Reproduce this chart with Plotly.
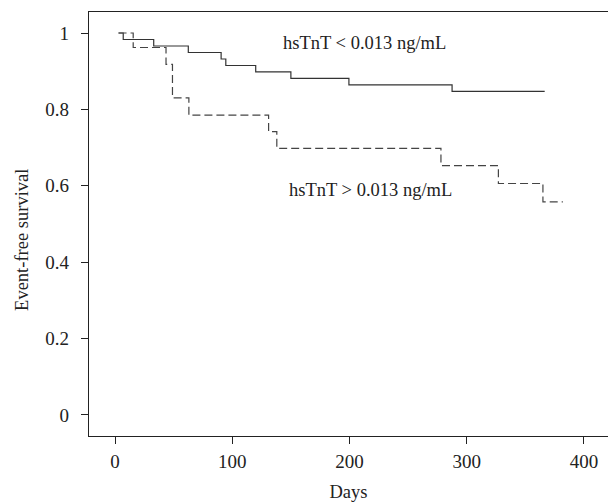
import plotly.graph_objects as go

# Kaplan-Meier step data
low_days = [3, 7, 33, 62.5, 90.5, 94.5, 120, 150, 199.5, 287.5, 366.5]
low_surv = [1.0, 0.983, 0.966, 0.949, 0.932, 0.915, 0.898, 0.881, 0.864, 0.847, 0.847]

high_days = [3, 15.5, 43.5, 49, 63, 131, 138, 278, 327, 365, 382]
high_surv = [1.0, 0.962, 0.918, 0.830, 0.785, 0.742, 0.698, 0.653, 0.606, 0.558, 0.558]

x_ticks = [0, 100, 200, 300, 400]
y_ticks = [0, 0.2, 0.4, 0.6, 0.8, 1]
y_ticktext = ["0", "0.2", "0.4", "0.6", "0.8", "1"]

SERIF = "Liberation Serif, Times New Roman, serif"
_FONT = dict(family=SERIF, size=19, color="#222222")
_NOTE = dict(family=SERIF, size=18.5, color="#222222")

fig = go.Figure()
fig.add_trace(go.Scatter(
    x=low_days, y=low_surv, mode="lines", line_shape="hv",
    line=dict(color="#333333", width=1.2), name="hsTnT < 0.013 ng/mL",
))
fig.add_trace(go.Scatter(
    x=high_days, y=high_surv, mode="lines", line_shape="hv",
    line=dict(color="#444444", width=1.2, dash="8px,4px"), name="hsTnT > 0.013 ng/mL",
))

fig.add_annotation(text="hsTnT < 0.013 ng/mL", x=141.6, y=0.974, xref="x", yref="y",
                   xanchor="left", yanchor="middle", showarrow=False, font=_NOTE)
fig.add_annotation(text="hsTnT > 0.013 ng/mL", x=146.4, y=0.589, xref="x", yref="y",
                   xanchor="left", yanchor="middle", showarrow=False, font=_NOTE)

# rotated y label, placed where the original sits
fig.add_annotation(text="Event-free survival", x=-0.1295, y=0.462, xref="paper", yref="paper",
                   textangle=-90, showarrow=False, xanchor="center", yanchor="middle", font=_NOTE)

fig.update_layout(
    width=608, height=502,
    margin=dict(l=89, r=0, t=12, b=66),
    paper_bgcolor="white", plot_bgcolor="white",
    font=_FONT,
    showlegend=False,
    xaxis=dict(
        range=[-22.2, 420.5], tickvals=x_ticks, showgrid=False, zeroline=False,
        showline=True, mirror=True, linecolor="#222222", linewidth=1.2,
        ticks="outside", ticklen=7, tickcolor="#222222", ticklabelstandoff=1,
        title=dict(text="Days", standoff=15, font=_NOTE),
    ),
    yaxis=dict(
        range=[-0.055, 1.055], tickvals=y_ticks, ticktext=y_ticktext, showgrid=False, zeroline=False,
        showline=True, linecolor="#222222", linewidth=1.2,
        ticks="outside", ticklen=7, tickcolor="#222222", ticklabelstandoff=8,
    ),
)

fig.write_html("out.html", config=dict(displayModeBar=False),
               post_script="document.body.style.margin='0';")
